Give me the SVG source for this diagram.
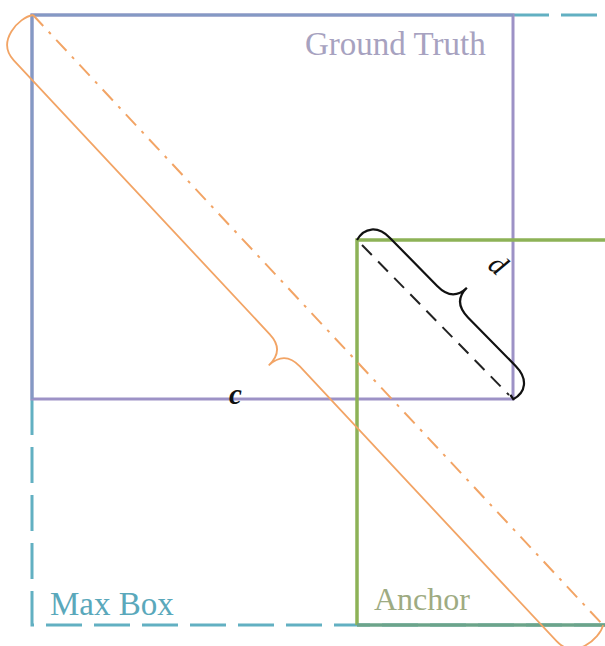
<svg xmlns="http://www.w3.org/2000/svg" width="605" height="646" viewBox="0 0 605 646">
<style>
.maxb{fill:none;stroke:#62b0c2;stroke-width:3;stroke-dasharray:36 12}
.gt{fill:none;stroke:#9d92c6;stroke-width:3}
.anc{fill:none;stroke:#8db257;stroke-width:3.5}
.lbl{font-family:"Liberation Serif","Times New Roman",serif;font-size:33px}
.var{font-family:"Liberation Serif","Times New Roman",serif;font-style:italic;font-weight:bold;font-size:29px;fill:#111}
</style>
<rect width="605" height="646" fill="#ffffff"/>
<g id="maxbox">
<path class="maxb" d="M513,15 L640,15 M32,399 L32,625 L640,625"/>
<text class="lbl" x="50" y="615" fill="#5aa8bb">Max Box</text>
</g>
<g id="groundtruth">
<rect class="gt" x="32" y="15" width="481" height="384"/>
<path d="M32,399 L32,15 L513,15" fill="none" stroke="#8499c4" stroke-width="3"/>
<text class="lbl" x="305" y="55" fill="#a7a2c0">Ground Truth</text>
</g>
<g id="anchor">
<path class="anc" d="M640,240 L357,240 L357,625"/>
<path d="M357,625 L640,625" fill="none" stroke="#6ca48a" stroke-width="3.5"/>
<text class="lbl" x="374" y="610" fill="#9eab82" style="font-size:32px">Anchor</text>
</g>
<g id="connectors">
<line x1="33" y1="15" x2="603" y2="625" stroke="#f2a465" stroke-width="2" stroke-dasharray="15 8 3 8"/>
<path transform="translate(33,15) rotate(46.94)" d="M0,0 C-8,12 -6,45 20,45 L395,45 Q417,45 417,67 Q417,45 439,45 L815,45 C841,45 843,12 835,0" fill="none" stroke="#f2a465" stroke-width="1.8"/>
<line x1="362" y1="245" x2="509" y2="395" stroke="#222" stroke-width="2" stroke-dasharray="14 9"/>
<path transform="translate(357,240) rotate(45.54)" d="M0,0 C-4,-14 4,-25 22,-25 L89,-25 Q111,-25 111,-45 Q111,-25 133,-25 L201,-25 C219,-25 227,-14 223,0 L218,-1" fill="none" stroke="#111" stroke-width="2.2"/>
</g>
<g id="labels">
<text class="var" x="229" y="404">c</text>
<text class="var" transform="translate(492,272) rotate(40)" text-anchor="middle" style="font-weight:normal">d</text>
</g>
</svg>
